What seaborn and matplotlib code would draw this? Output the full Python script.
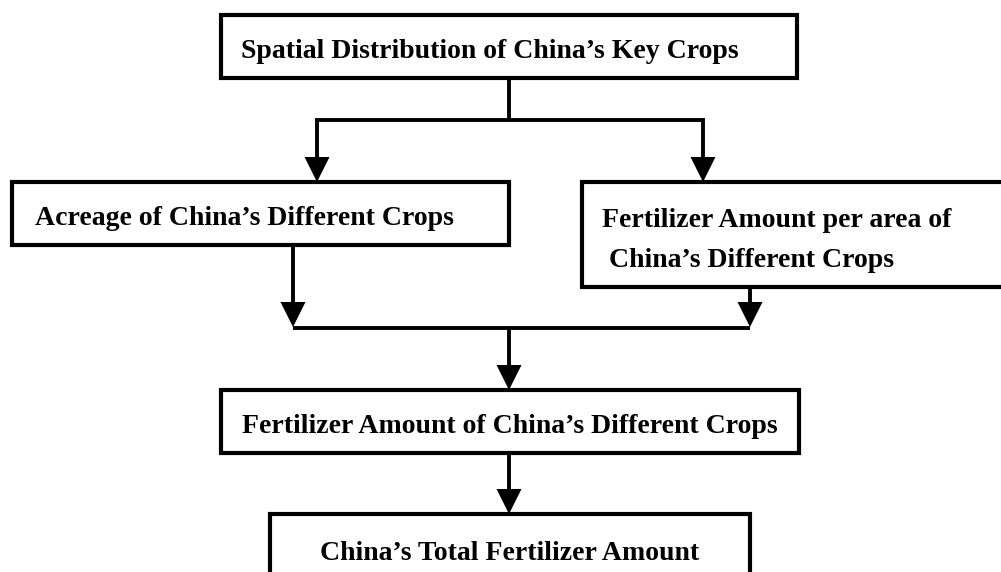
import matplotlib
matplotlib.use("Agg")
import matplotlib.pyplot as plt
from matplotlib.patches import Rectangle, Polygon
import pandas as pd
import seaborn as sns

# ---- content ----
box_labels = [
    "Spatial Distribution of China\u2019s Key Crops",
    "Acreage of China\u2019s Different Crops",
    "Fertilizer Amount per area of",
    "Fertilizer Amount of China\u2019s Different Crops",
    "China\u2019s Total Fertilizer Amount",
]
extra_line = "China\u2019s Different Crops"

# ---- layout (pixel coordinates, y downwards) ----
boxes = [  # closed boxes: x0, y0, x1, y1
    (221, 15, 797, 78),
    (12, 182, 509, 245),
    (221, 390, 799, 453),
]
# boxes cut by the figure edge, drawn as open outlines starting outside the canvas
open_boxes = [
    [(1030, 182), (582, 182), (582, 287), (1030, 287)],
    [(270, 600), (270, 514), (750, 514), (750, 600)],
]
text_pos = [  # x, baseline y, ha
    (241, 58, "left"),
    (35, 225, "left"),
    (602, 227, "left"),
    (242, 433, "left"),
    (510, 560, "center"),
]
extra_pos = (609, 267)

# connector polylines
paths = [
    [(509, 78), (509, 120)],
    [(317, 157), (317, 120), (703, 120), (703, 157)],
    [(293, 245), (293, 302)],
    [(750, 287), (750, 302)],
    [(293, 328), (750, 328)],
    [(509, 328), (509, 365)],
    [(509, 453), (509, 489)],
]
arrow_tips = [(317, 182), (703, 182), (293, 327), (750, 327), (509, 390), (509, 514)]
head_w, head_h = 25, 25

sns.set_theme(style="white")
plt.rcParams["font.family"] = ["Liberation Serif", "DejaVu Serif"]

fig = plt.figure(figsize=(10.01, 5.72), dpi=100)
ax = fig.add_axes([0, 0, 1, 1])

# connectors via seaborn
rows = []
for i, p in enumerate(paths):
    for j, (x, y) in enumerate(p):
        rows.append({"x": x, "y": y, "seg": i, "order": j})
df = pd.DataFrame(rows)
sns.lineplot(data=df, x="x", y="y", units="seg", estimator=None, sort=False,
             color="black", linewidth=2.8, ax=ax, legend=False)
for line in ax.lines:
    line.set_solid_joinstyle("miter")
    line.set_solid_capstyle("butt")

ax.set_xlim(0, 1001)
ax.set_ylim(572, 0)
ax.axis("off")

# boxes
for (x0, y0, x1, y1) in boxes:
    ax.add_patch(Rectangle((x0, y0), x1 - x0, y1 - y0, fill=False,
                           edgecolor="black", linewidth=3.0, joinstyle="miter"))
for verts in open_boxes:
    ax.add_patch(Polygon(verts, closed=False, fill=False, edgecolor="black",
                         linewidth=3.0, joinstyle="miter"))

# arrow heads
for (tx, ty) in arrow_tips:
    ax.fill([tx - head_w / 2, tx + head_w / 2, tx], [ty - head_h, ty - head_h, ty],
            color="black", linewidth=0)

# texts
for label, (x, y, ha) in zip(box_labels, text_pos):
    ax.text(x, y, label, ha=ha, va="baseline", fontsize=20, fontweight="bold",
            color="black")
ax.text(extra_pos[0], extra_pos[1], extra_line, ha="left", va="baseline",
        fontsize=20, fontweight="bold", color="black")

fig.savefig("out.png", dpi=100, facecolor="white")
